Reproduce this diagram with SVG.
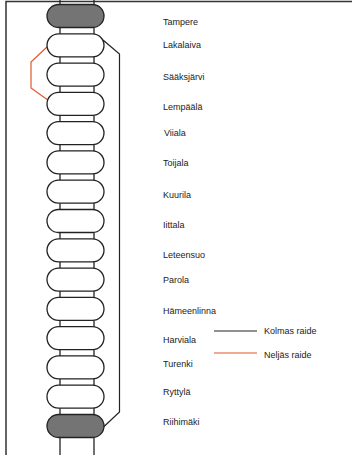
<svg xmlns="http://www.w3.org/2000/svg" width="352" height="455" viewBox="0 0 352 455">
<style>
.frame{stroke:#333;stroke-width:1.5;fill:none}
.track{stroke:#222;stroke-width:1.3;fill:none}
.st{fill:#fff;stroke:#222;stroke-width:1.3}
.end{fill:#747474;stroke:#222;stroke-width:1.3}
.lbl{font-family:"Liberation Sans",Arial,sans-serif;font-size:9px;fill:#222}
.k3{stroke:#222;stroke-width:1.2;fill:none}
.k4{stroke:#e2572b;stroke-width:1.2;fill:none}
</style>
<rect width="352" height="455" fill="#fff"/>
<path class="frame" d="M6 455V1.5H352"/>
<g id="track">
<line class="track" x1="60" y1="0" x2="60" y2="455"/>
<line class="track" x1="94" y1="0" x2="94" y2="455"/>
</g>
<g id="connectors">
<path class="k3" d="M103 40L119.5 54V412L103.5 427"/>
<path class="k4" d="M47.5 46.5L31 62V88L48.5 100.5"/>
<path class="k3" d="M214 331H257"/>
<path class="k4" d="M214 353H257"/>
</g>
<g id="tampere"><rect class="end" x="47" y="4.5" width="57" height="23" rx="11.5"/><text class="lbl" x="163" y="24.5">Tampere</text></g>
<g id="lakalaiva"><rect class="st" x="47" y="33.8" width="57" height="23" rx="11.5"/><text class="lbl" x="163" y="48">Lakalaiva</text></g>
<g id="saaksjarvi"><rect class="st" x="47" y="63.1" width="57" height="23" rx="11.5"/><text class="lbl" x="163" y="80">Sääksjärvi</text></g>
<g id="lempaala"><rect class="st" x="47" y="92.4" width="57" height="23" rx="11.5"/><text class="lbl" x="163" y="110">Lempäälä</text></g>
<g id="viiala"><rect class="st" x="47" y="121.6" width="57" height="23" rx="11.5"/><text class="lbl" x="164" y="136">Viiala</text></g>
<g id="toijala"><rect class="st" x="47" y="150.9" width="57" height="23" rx="11.5"/><text class="lbl" x="163" y="166">Toijala</text></g>
<g id="kuurila"><rect class="st" x="47" y="180.2" width="57" height="23" rx="11.5"/><text class="lbl" x="163" y="198">Kuurila</text></g>
<g id="iittala"><rect class="st" x="47" y="209.5" width="57" height="23" rx="11.5"/><text class="lbl" x="163" y="228">Iittala</text></g>
<g id="leteensuo"><rect class="st" x="47" y="238.8" width="57" height="23" rx="11.5"/><text class="lbl" x="163" y="258">Leteensuo</text></g>
<g id="parola"><rect class="st" x="47" y="268.1" width="57" height="23" rx="11.5"/><text class="lbl" x="163" y="283">Parola</text></g>
<g id="hameenlinna"><rect class="st" x="47" y="297.4" width="57" height="23" rx="11.5"/><text class="lbl" x="163" y="314">Hämeenlinna</text></g>
<g id="harviala"><rect class="st" x="47" y="326.6" width="57" height="23" rx="11.5"/><text class="lbl" x="163" y="343">Harviala</text></g>
<g id="turenki"><rect class="st" x="47" y="355.9" width="57" height="23" rx="11.5"/><text class="lbl" x="163" y="367">Turenki</text></g>
<g id="ryttyla"><rect class="st" x="47" y="385.2" width="57" height="23" rx="11.5"/><text class="lbl" x="163" y="395">Ryttylä</text></g>
<g id="riihimaki"><rect class="end" x="47" y="414.5" width="57" height="23" rx="11.5"/><text class="lbl" x="163" y="425">Riihimäki</text></g>
<g id="legend">
<text class="lbl" x="264" y="334">Kolmas raide</text>
<text class="lbl" x="264" y="358">Neljäs raide</text>
</g>
</svg>
